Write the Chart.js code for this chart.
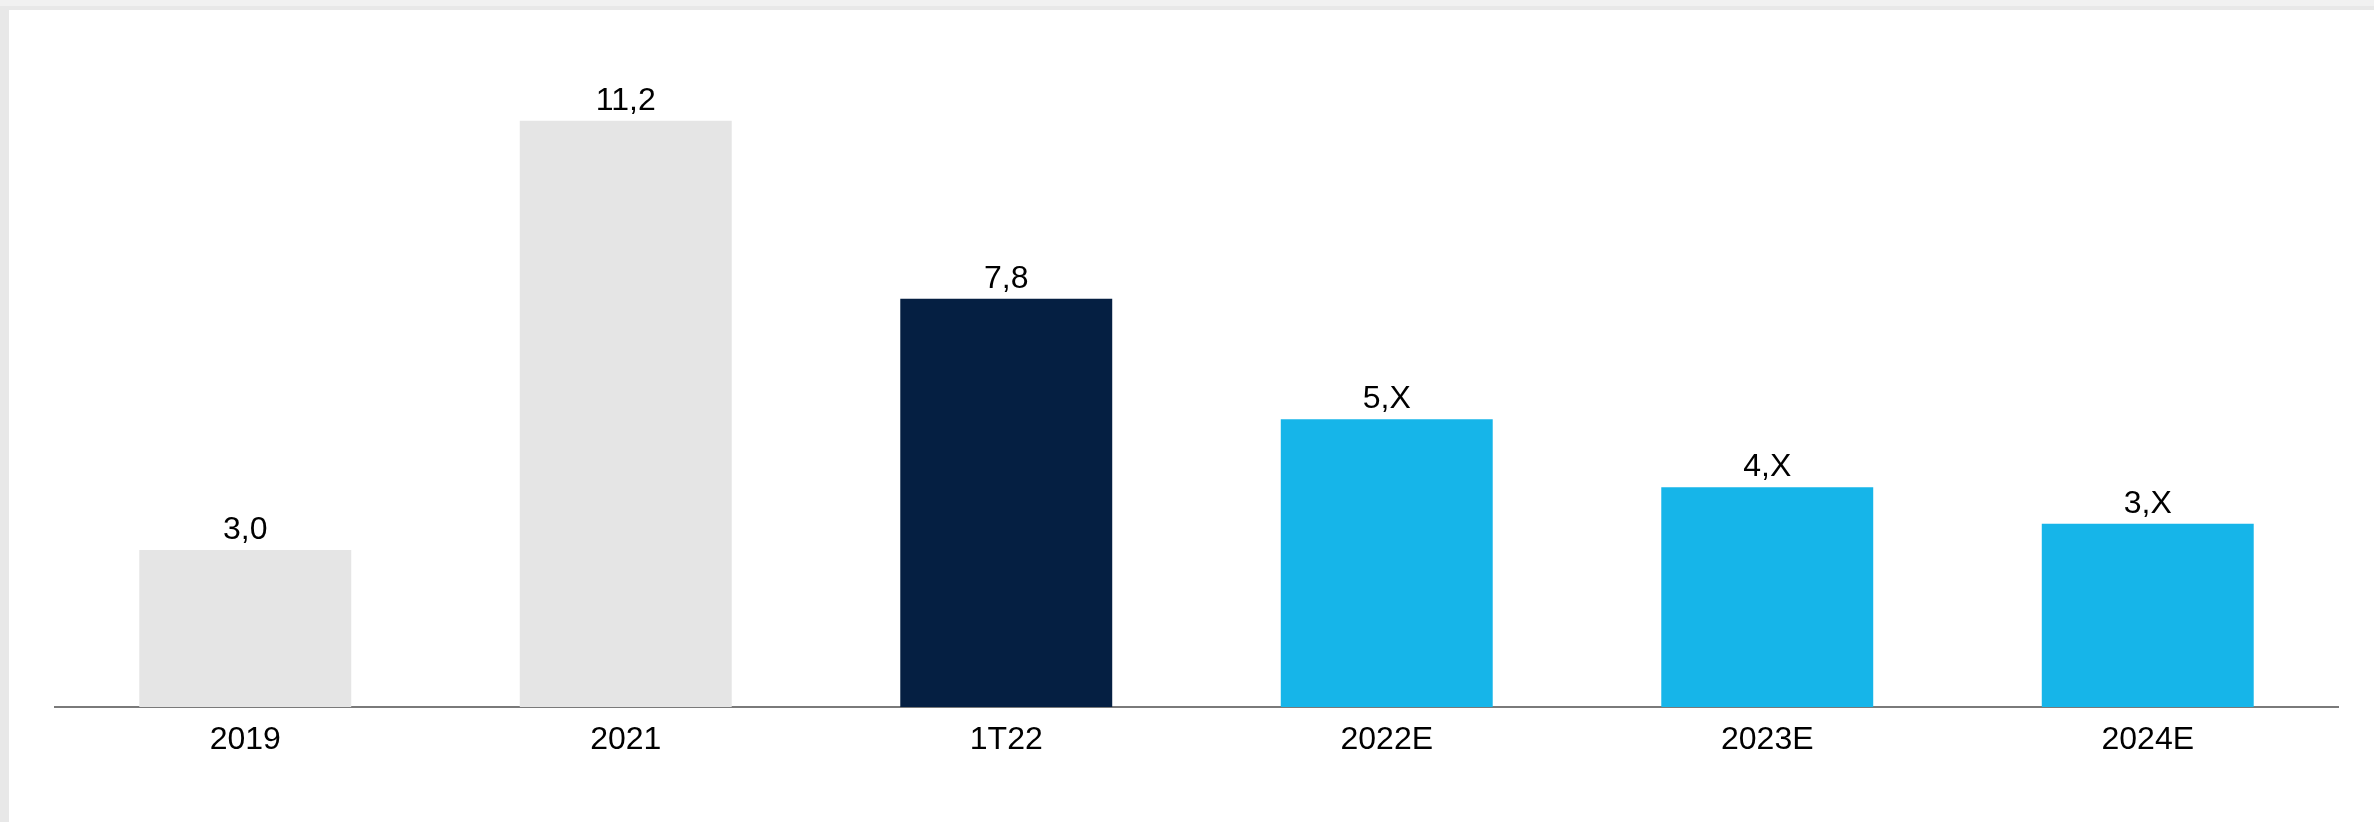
<!DOCTYPE html>
<html>
<head>
<meta charset="utf-8">
<script src="https://cdn.jsdelivr.net/npm/chart.js@4"></script>
<style>
  html, body { margin: 0; padding: 0; width: 2374px; height: 822px; overflow: hidden; background: #e8e8e8; }
  #topstrip { position: absolute; left: 0; top: 0; width: 2374px; height: 6px; background: #f1f1f1; }
  #wrap { position: absolute; left: 9px; top: 10px; width: 2365px; height: 812px; background: #ffffff; }
  canvas { display: block; }
</style>
</head>
<body>
<div id="topstrip"></div>
<div id="wrap"><canvas id="c" width="2365" height="812"></canvas></div>
<script>
const categories = ["2019", "2021", "1T22", "2022E", "2023E", "2024E"];
const values = [3.0, 11.2, 7.8, 5.5, 4.2, 3.5];
const valueLabels = ["3,0", "11,2", "7,8", "5,X", "4,X", "3,X"];
const barColors = ["#e5e5e5", "#e5e5e5", "#051f42", "#16b5e9", "#16b5e9", "#16b5e9"];

const FONT = "'Liberation Sans', Arial, sans-serif";

const valueLabelPlugin = {
  id: 'valueLabels',
  afterDatasetsDraw(chart) {
    const ctx = chart.ctx;
    const meta = chart.getDatasetMeta(0);
    ctx.save();
    ctx.font = "32px " + FONT;
    ctx.fillStyle = "#000000";
    ctx.textAlign = "center";
    ctx.textBaseline = "alphabetic";
    meta.data.forEach((bar, i) => {
      ctx.fillText(valueLabels[i], bar.x, bar.y - 11);
    });
    ctx.restore();
  }
};

new Chart(document.getElementById('c'), {
  type: 'bar',
  data: {
    labels: categories,
    datasets: [{
      data: values,
      backgroundColor: barColors,
      borderWidth: 0,
      barPercentage: 0.557,
      categoryPercentage: 1.0
    }]
  },
  options: {
    responsive: false,
    animation: false,
    devicePixelRatio: 1,
    layout: { padding: { left: 46, right: 36, top: 69, bottom: 0 } },
    plugins: { legend: { display: false }, tooltip: { enabled: false } },
    scales: {
      x: {
        z: 1,
        grid: { display: false, drawTicks: false },
        border: { display: true, color: '#7a7a7a', width: 2 },
        ticks: { color: '#000000', font: { family: FONT, size: 32 }, padding: 14, maxRotation: 0 },
        afterFit(scale) { scale.height = 115; }
      },
      y: {
        display: false,
        min: 0,
        max: 12
      }
    }
  },
  plugins: [valueLabelPlugin]
});
</script>
</body>
</html>
